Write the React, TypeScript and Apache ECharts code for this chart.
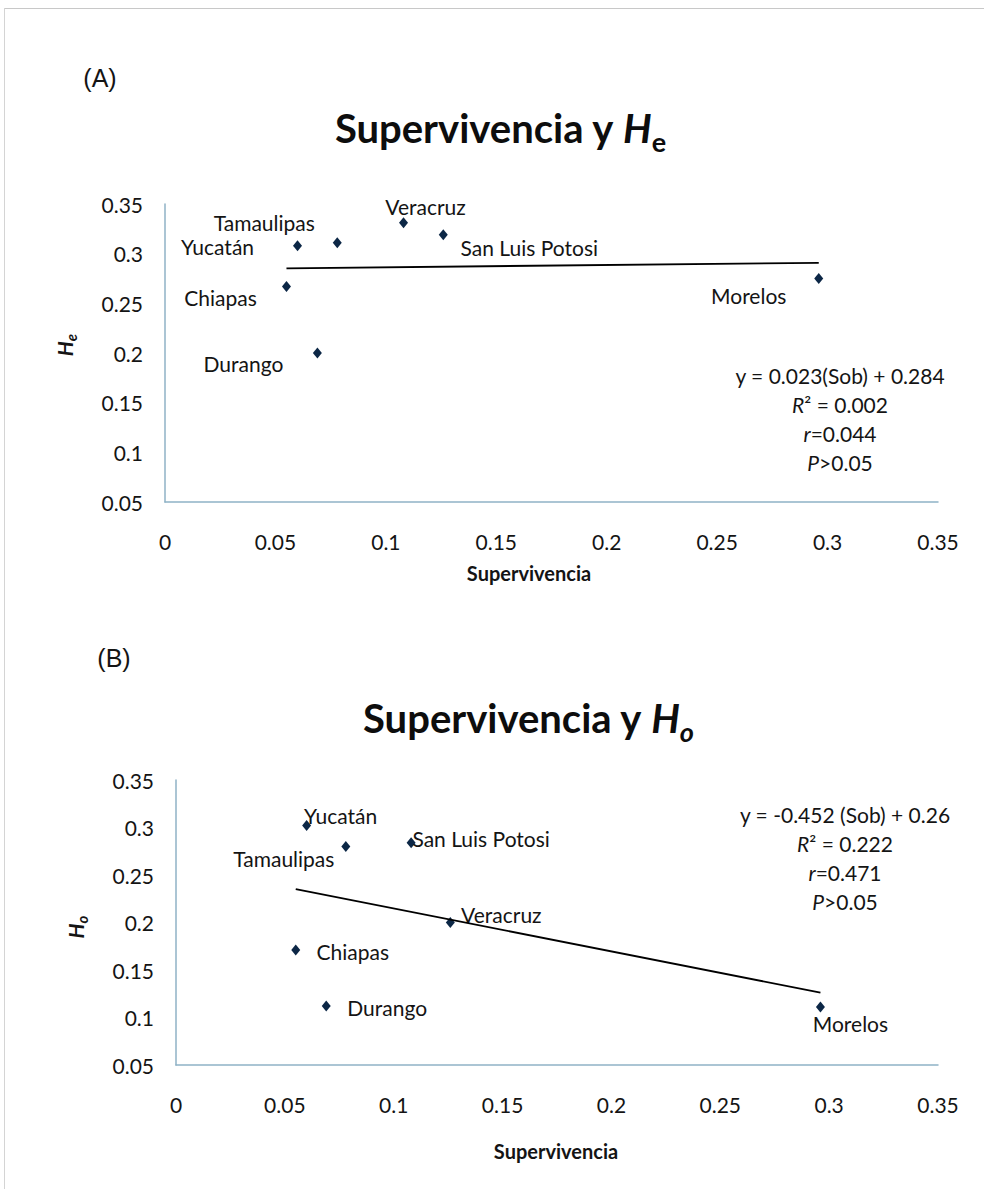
import React, { useEffect, useRef } from 'react';
import * as echarts from 'echarts';

// Panel A: survival vs expected heterozygosity
const statesHe = ['Yucatán', 'Tamaulipas', 'Veracruz', 'San Luis Potosi', 'Chiapas', 'Durango', 'Morelos'];
const survivalHe = [0.06, 0.078, 0.108, 0.126, 0.055, 0.069, 0.296];
const valuesHe = [0.308, 0.311, 0.331, 0.319, 0.267, 0.2, 0.275];

// Panel B: survival vs observed heterozygosity
const statesHo = ['Yucatán', 'Tamaulipas', 'San Luis Potosi', 'Veracruz', 'Chiapas', 'Durango', 'Morelos'];
const survivalHo = [0.06, 0.078, 0.108, 0.126, 0.055, 0.069, 0.296];
const valuesHo = [0.302, 0.28, 0.284, 0.2, 0.171, 0.112, 0.111];

// Fitted regression lines (slope, intercept)
const fitHe = [0.023, 0.284];
const fitHo = [-0.452, 0.26];

// Axis ranges and step
const xRange = [0, 0.35];
const yRange = [0.05, 0.35];
const tickStep = 0.05;

// Annotation lines
const statsHe = ['y = 0.023(Sob) + 0.284', '{i|R}² = 0.002', '{i|r}=0.044', '{i|P}>0.05'];
const statsHo = ['y = -0.452 (Sob) + 0.26', '{i|R}² = 0.222', '{i|r}=0.471', '{i|P}>0.05'];

// Label offsets (pixels from each marker centre)
const labelOffsetsHe = [[-80, 1], [-73, -20], [22, -16], [86, 13], [-66, 11], [-74, 10], [-70, 17]];
const labelOffsetsHo = [[34, -10], [-62, 12], [70, -4], [51, -8], [57, 1], [61, 1], [30, 16]];

const FONT = 'Lato, "Open Sans", sans-serif';
const INK = '#141414';
const AXIS = '#8fb2c6';
const MARK = '#0c2746';

function trend(fit: number[], xs: number[]) {
  const lo = Math.min(...xs);
  const hi = Math.max(...xs);
  return [
    [lo, fit[0] * lo + fit[1]],
    [hi, fit[0] * hi + fit[1]],
  ];
}

function points(names: string[], xs: number[], ys: number[], offsets: number[][]) {
  return names.map((name, i) => ({
    name,
    value: [xs[i], ys[i]],
    label: { offset: offsets[i] },
  }));
}

function xAxisFor(gridIndex: number) {
  return {
    type: 'value',
    gridIndex,
    min: xRange[0],
    max: xRange[1],
    interval: tickStep,
    axisLine: { show: true, onZero: false, lineStyle: { color: AXIS, width: 1.5 } },
    axisTick: { show: false },
    splitLine: { show: false },
    axisLabel: { fontSize: 21, color: INK, fontFamily: FONT, margin: 29 },
  };
}

function yAxisFor(gridIndex: number) {
  return {
    type: 'value',
    gridIndex,
    min: yRange[0],
    max: yRange[1],
    interval: tickStep,
    axisLine: { show: true, onZero: false, lineStyle: { color: AXIS, width: 1.5 } },
    axisTick: { show: false },
    splitLine: { show: false },
    axisLabel: { fontSize: 21, color: INK, fontFamily: FONT, margin: 22 },
  };
}

const scatterBase = {
  type: 'scatter',
  symbol: 'diamond',
  symbolSize: [9, 11],
  itemStyle: { color: MARK, opacity: 1 },
  label: {
    show: true,
    position: 'inside',
    formatter: '{b}',
    color: INK,
    textBorderWidth: 0,
    fontSize: 21,
    fontFamily: FONT,
  },
};

const trendBase = {
  type: 'line',
  symbol: 'none',
  lineStyle: { color: '#000', width: 1.8 },
  silent: true,
};

function statsBlock(lines: string[], cx: number, top: number) {
  return lines.map((t, i) => ({
    type: 'text',
    x: cx,
    y: top + i * 29.3,
    style: {
      text: t,
      align: 'center',
      verticalAlign: 'middle',
      fontSize: 21,
      fontFamily: FONT,
      fill: INK,
      rich: { i: { fontStyle: 'italic', fontSize: 21, fontFamily: FONT, fill: INK } },
    },
  }));
}

function title(sub: string, subItalic: boolean, cx: number, cy: number) {
  return {
    type: 'text',
    x: cx,
    y: cy,
    style: {
      text: 'Supervivencia y {h|H}{s|' + sub + '}',
      align: 'center',
      verticalAlign: 'middle',
      fontSize: 40,
      fontWeight: 'bold',
      fontFamily: FONT,
      fill: '#0d0d0d',
      lineHeight: 54,
      rich: {
        h: { fontSize: 40, fontWeight: 'bold', fontStyle: 'italic', fontFamily: FONT, fill: '#0d0d0d', lineHeight: 54 },
        s: {
          fontSize: 27,
          fontWeight: 'bold',
          fontStyle: subItalic ? 'italic' : 'normal',
          fontFamily: FONT,
          fill: '#0d0d0d',
          lineHeight: 27,
          verticalAlign: 'bottom',
        },
      },
    },
  };
}

function yName(sub: string, cx: number, cy: number) {
  return {
    type: 'text',
    x: cx,
    y: cy,
    rotation: Math.PI / 2,
    style: {
      text: '{h|H}{s|' + sub + '}',
      align: 'center',
      verticalAlign: 'middle',
      fontSize: 21,
      fontFamily: FONT,
      fill: INK,
      lineHeight: 28,
      rich: {
        h: { fontSize: 21, fontWeight: 'bold', fontStyle: 'italic', fontFamily: FONT, fill: INK, lineHeight: 28 },
        s: { fontSize: 15, fontWeight: 'bold', fontStyle: 'italic', fontFamily: FONT, fill: INK, lineHeight: 15, verticalAlign: 'bottom' },
      },
    },
  };
}

function plainText(text: string, x: number, y: number, size: number, weight: string, family = FONT) {
  return {
    type: 'text',
    x,
    y,
    style: { text, align: 'center', verticalAlign: 'middle', fontSize: size, fontWeight: weight, fontFamily: family, fill: INK },
  };
}

const option = {
  animation: false,
  backgroundColor: '#ffffff',
  grid: [
    { left: 165, top: 204, width: 773, height: 298 },
    { left: 176, top: 780, width: 762, height: 285 },
  ],
  xAxis: [xAxisFor(0), xAxisFor(1)],
  yAxis: [yAxisFor(0), yAxisFor(1)],
  series: [
    {
      ...trendBase,
      xAxisIndex: 0,
      yAxisIndex: 0,
      data: trend(fitHe, survivalHe),
    },
    {
      ...scatterBase,
      xAxisIndex: 0,
      yAxisIndex: 0,
      data: points(statesHe, survivalHe, valuesHe, labelOffsetsHe),
    },
    {
      ...trendBase,
      xAxisIndex: 1,
      yAxisIndex: 1,
      data: trend(fitHo, survivalHo),
    },
    {
      ...scatterBase,
      xAxisIndex: 1,
      yAxisIndex: 1,
      data: points(statesHo, survivalHo, valuesHo, labelOffsetsHo),
    },
  ],
  graphic: [
    { type: 'line', shape: { x1: 4, y1: 8.5, x2: 984, y2: 8.5 }, style: { stroke: '#c8c8c8', lineWidth: 1 } },
    { type: 'line', shape: { x1: 4.5, y1: 8, x2: 4.5, y2: 1189 }, style: { stroke: '#d4d4d4', lineWidth: 1 } },
    plainText('(A)', 100, 78, 25, 'normal', '"Liberation Sans", Arial, sans-serif'),
    plainText('(B)', 114, 658, 25, 'normal', '"Liberation Sans", Arial, sans-serif'),
    title('e', false, 500, 128),
    title('o', true, 528, 718),
    yName('e', 64, 345),
    yName('o', 75, 927),
    plainText('Supervivencia', 529, 573, 20, 'bold'),
    plainText('Supervivencia', 556, 1151, 20, 'bold'),
    ...statsBlock(statsHe, 840, 375),
    ...statsBlock(statsHo, 845, 814),
  ],
};

export default function App() {
  const ref = useRef<HTMLDivElement>(null);
  useEffect(() => {
    document.body.style.margin = '0';
    const chart = echarts.init(ref.current as HTMLDivElement, null, { renderer: 'svg' });
    chart.setOption(option as any);
    return () => chart.dispose();
  }, []);
  return <div ref={ref} style={{ width: 984, height: 1189 }} />;
}
